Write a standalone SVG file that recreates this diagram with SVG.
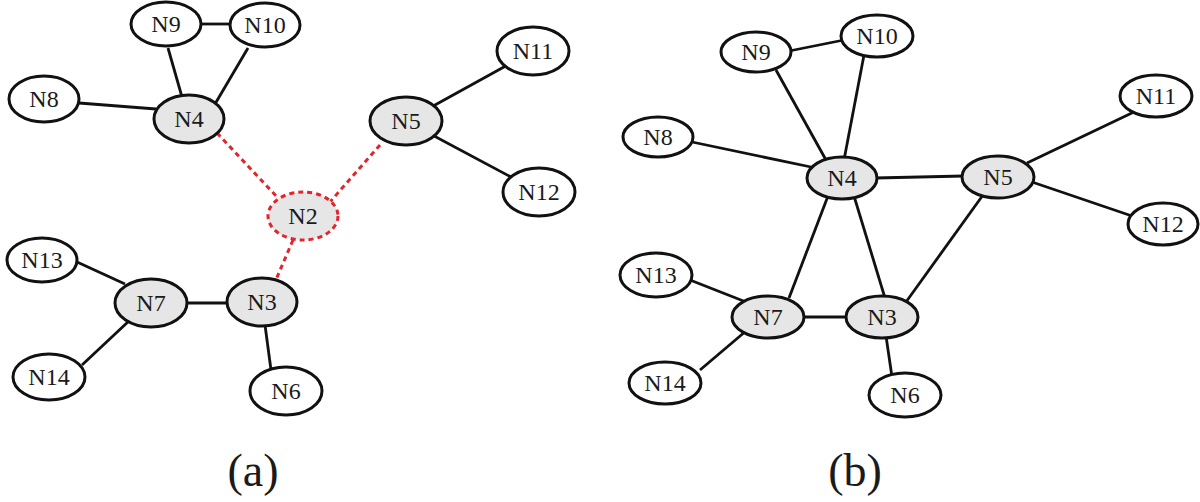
<svg xmlns="http://www.w3.org/2000/svg" width="1200" height="502" viewBox="0 0 1200 502">
<style>
.e{stroke:#111;stroke-width:2.8;fill:none}
.r{stroke:#e0262c;stroke-width:3;stroke-dasharray:5,4;fill:none}
.n ellipse{fill:#fff;stroke:#111;stroke-width:3}
.g ellipse{fill:#e6e6e6}
.n2 ellipse{fill:#e6e6e6;stroke:#e0262c;stroke-dasharray:5,4}
text{font-family:"Liberation Serif","Times New Roman",serif;font-size:24px;text-anchor:middle;fill:#1a1a1a}
.cap{font-size:46px}
</style>
<rect width="1200" height="502" fill="#fff"/>
<g id="connectors">
<line class="e" x1="202" y1="24" x2="230" y2="24"/>
<line class="e" x1="168" y1="48" x2="182" y2="97"/>
<line class="e" x1="248" y1="48" x2="215" y2="104"/>
<line class="e" x1="79" y1="103" x2="156" y2="109"/>
<line class="e" x1="406" y1="121" x2="533" y2="51"/>
<line class="e" x1="406" y1="121" x2="539" y2="192"/>
<line class="e" x1="77" y1="262" x2="125" y2="284"/>
<line class="e" x1="82" y1="365" x2="130" y2="320"/>
<line class="e" x1="185" y1="303" x2="229" y2="303"/>
<line class="e" x1="265" y1="325" x2="271" y2="370"/>
<line class="r" x1="217" y1="133" x2="278" y2="198"/>
<line class="r" x1="380" y1="145" x2="330" y2="202"/>
<line class="r" x1="293" y1="240" x2="275" y2="282"/>
<line class="e" x1="789" y1="51" x2="844" y2="40"/>
<line class="e" x1="776" y1="70" x2="826" y2="160"/>
<line class="e" x1="864" y1="55" x2="844" y2="160"/>
<line class="e" x1="692" y1="142" x2="811" y2="167"/>
<line class="e" x1="875" y1="178" x2="964" y2="176"/>
<line class="e" x1="828" y1="196" x2="789" y2="298"/>
<line class="e" x1="854" y1="196" x2="885" y2="298"/>
<line class="e" x1="983" y1="195" x2="906" y2="302"/>
<line class="e" x1="1027" y1="163" x2="1136" y2="111"/>
<line class="e" x1="1032" y1="182" x2="1132" y2="216"/>
<line class="e" x1="690" y1="280" x2="746" y2="302"/>
<line class="e" x1="700" y1="370" x2="746" y2="331"/>
<line class="e" x1="803" y1="317" x2="847" y2="317"/>
<line class="e" x1="886" y1="336" x2="892" y2="377"/>
</g>
<g id="a-N9" class="n"><ellipse cx="166" cy="24" rx="35" ry="22"/><text x="166" y="32">N9</text></g>
<g id="a-N10" class="n"><ellipse cx="265" cy="25" rx="35" ry="22"/><text x="265" y="33">N10</text></g>
<g id="a-N8" class="n"><ellipse cx="44" cy="99" rx="35" ry="23"/><text x="44" y="107">N8</text></g>
<g id="a-N4" class="n g"><ellipse cx="189" cy="119" rx="35" ry="24"/><text x="189" y="127">N4</text></g>
<g id="a-N2" class="n n2"><ellipse cx="303" cy="216" rx="35" ry="24"/><text x="303" y="224">N2</text></g>
<g id="a-N5" class="n g"><ellipse cx="406" cy="121" rx="36" ry="24"/><text x="406" y="129">N5</text></g>
<g id="a-N11" class="n"><ellipse cx="533" cy="51" rx="36" ry="24"/><text x="533" y="59">N11</text></g>
<g id="a-N12" class="n"><ellipse cx="539" cy="192" rx="36" ry="24"/><text x="539" y="200">N12</text></g>
<g id="a-N13" class="n"><ellipse cx="42" cy="260" rx="35" ry="22"/><text x="42" y="268">N13</text></g>
<g id="a-N7" class="n g"><ellipse cx="151" cy="303" rx="36" ry="24"/><text x="151" y="311">N7</text></g>
<g id="a-N3" class="n g"><ellipse cx="262" cy="302" rx="35" ry="24"/><text x="262" y="310">N3</text></g>
<g id="a-N14" class="n"><ellipse cx="49" cy="377" rx="36" ry="23"/><text x="49" y="385">N14</text></g>
<g id="a-N6" class="n"><ellipse cx="286" cy="391" rx="36" ry="24"/><text x="286" y="399">N6</text></g>
<g id="b-N9" class="n"><ellipse cx="756" cy="52" rx="35" ry="20"/><text x="756" y="60">N9</text></g>
<g id="b-N10" class="n"><ellipse cx="877" cy="36" rx="36" ry="21"/><text x="877" y="44">N10</text></g>
<g id="b-N8" class="n"><ellipse cx="658" cy="137" rx="35" ry="20"/><text x="658" y="145">N8</text></g>
<g id="b-N4" class="n g"><ellipse cx="842" cy="178" rx="35" ry="21"/><text x="842" y="186">N4</text></g>
<g id="b-N5" class="n g"><ellipse cx="998" cy="177" rx="36" ry="21"/><text x="998" y="185">N5</text></g>
<g id="b-N11" class="n"><ellipse cx="1156" cy="96" rx="36" ry="21"/><text x="1156" y="104">N11</text></g>
<g id="b-N12" class="n"><ellipse cx="1163" cy="224" rx="35" ry="21"/><text x="1163" y="232">N12</text></g>
<g id="b-N13" class="n"><ellipse cx="656" cy="275" rx="36" ry="22"/><text x="656" y="283">N13</text></g>
<g id="b-N7" class="n g"><ellipse cx="768" cy="317" rx="36" ry="21"/><text x="768" y="325">N7</text></g>
<g id="b-N3" class="n g"><ellipse cx="882" cy="317" rx="36" ry="21"/><text x="882" y="325">N3</text></g>
<g id="b-N14" class="n"><ellipse cx="665" cy="383" rx="36" ry="21"/><text x="665" y="391">N14</text></g>
<g id="b-N6" class="n"><ellipse cx="905" cy="395" rx="36" ry="22"/><text x="905" y="403">N6</text></g>
<text class="cap" x="253" y="486">(a)</text>
<text class="cap" x="855" y="486">(b)</text>
</svg>
